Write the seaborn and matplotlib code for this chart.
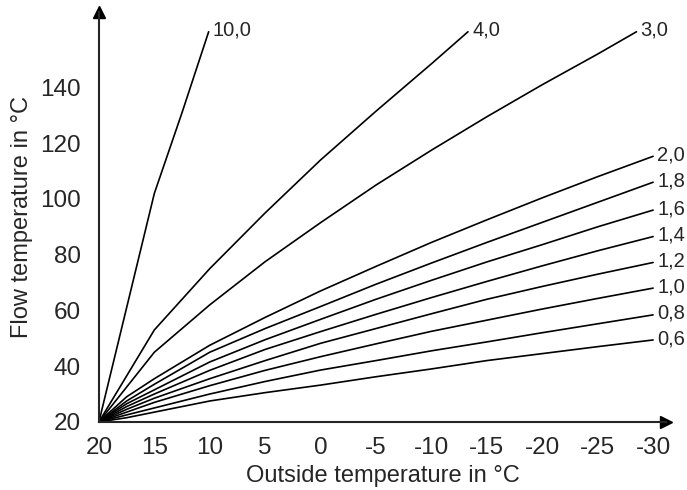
import matplotlib
matplotlib.use("Agg")
import matplotlib.pyplot as plt
import seaborn as sns
import pandas as pd
from matplotlib.ticker import FixedLocator, FuncFormatter

# outside temperature points for the flat curves (0,6 ... 2,0)
x_low = [20, 17.5, 15, 10, 5, 0, -5, -10, -15, -20, -25, -30]
flow_0_6 = [20, 21.5, 23.5, 27.5, 30.5, 33.2, 36.2, 39, 42, 44.5, 47, 49.4]
flow_0_8 = [20, 22.5, 25, 30, 34.5, 38.6, 42, 45.5, 48.7, 52, 55.2, 58.4]
flow_1_0 = [20, 23.5, 27, 33, 38.5, 43.4, 48, 52.5, 56.5, 60.5, 64.3, 68]
flow_1_2 = [20, 24.5, 28.5, 35.5, 42, 48.2, 53.5, 58.8, 64, 68.6, 73, 77.2]
flow_1_4 = [20, 25.5, 30, 38.5, 46, 52.4, 58.6, 64.6, 70.4, 76, 81.4, 86.5]
flow_1_6 = [20, 26.5, 31.5, 41.5, 49.5, 56.8, 64, 70.8, 77.4, 83.6, 90, 96]
flow_1_8 = [20, 27.5, 33.5, 45, 53.5, 61.4, 69.4, 77, 84.4, 91.6, 98.8, 106]
flow_2_0 = [20, 29, 35.5, 47.5, 57.5, 67, 75.8, 84.4, 92.5, 100.4, 108, 115.3]

# steep curves end at the top of the chart
x_3_0 = [20, 15, 10, 5, 0, -5, -10, -15, -20, -25, -28.5]
flow_3_0 = [20, 45, 62, 77.5, 91.5, 105, 117.5, 129.5, 141, 152, 160]
x_4_0 = [20, 15, 10, 5, 0, -5, -10, -13.3]
flow_4_0 = [20, 53, 75, 95, 114, 131.5, 148.5, 160]
x_10_0 = [20, 15, 12.5, 10.1]
flow_10_0 = [20, 102, 131, 160]

curve_labels = ["0,6", "0,8", "1,0", "1,2", "1,4", "1,6", "1,8", "2,0", "3,0", "4,0", "10,0"]
curve_x = [x_low] * 8 + [x_3_0, x_4_0, x_10_0]
curve_y = [flow_0_6, flow_0_8, flow_1_0, flow_1_2, flow_1_4, flow_1_6,
           flow_1_8, flow_2_0, flow_3_0, flow_4_0, flow_10_0]

frames = []
for lab, xs, ys in zip(curve_labels, curve_x, curve_y):
    frames.append(pd.DataFrame({"outside": xs, "flow": ys, "curve": lab}))
df = pd.concat(frames, ignore_index=True)

sns.set_style("white")
plt.rcParams["font.family"] = ["Liberation Sans", "DejaVu Sans"]
plt.rcParams["axes.unicode_minus"] = False

fig = plt.figure(figsize=(6.87, 4.9), dpi=100)
ax = fig.add_axes([0.144, 0.139, 0.826, 0.836])

sns.lineplot(data=df, x="outside", y="flow", units="curve", estimator=None,
             color="black", linewidth=1.2, ax=ax, legend=False)

# curve labels at the end of each line
for lab, xs, ys in zip(curve_labels, curve_x, curve_y):
    ax.annotate(lab, (xs[-1], ys[-1]), xytext=(3, 1), textcoords="offset points",
                ha="left", va="center", fontsize=14.5)

ax.set_xlim(20, -31.2)
ax.set_ylim(20, 167)

ax.set_xticks([20, 15, 10, 5, 0, -5, -10, -15, -20, -25, -30])
ax.yaxis.set_major_locator(FixedLocator(list(range(20, 161, 10))))
ax.yaxis.set_major_formatter(FuncFormatter(lambda v, p: f"{int(v)}" if v % 20 == 0 and v <= 140 else ""))

ax.tick_params(axis="x", direction="in", length=6, width=1.2, pad=11, labelsize=17.5)
ax.tick_params(axis="y", direction="out", length=8, width=1.2, pad=5, labelsize=17.5)

sns.despine(ax=ax)
for s in ["left", "bottom"]:
    ax.spines[s].set_linewidth(1.5)

# arrow heads on the axes
ax.plot(1, 0, ">k", markersize=9, transform=ax.transAxes, clip_on=False)
ax.plot(0, 1, "^k", markersize=9, transform=ax.transAxes, clip_on=False)

ax.set_xlabel("Outside temperature in °C", fontsize=17, labelpad=4)
ax.set_ylabel("Flow temperature in °C", fontsize=17, labelpad=5)

fig.savefig("out.png", dpi=100)
